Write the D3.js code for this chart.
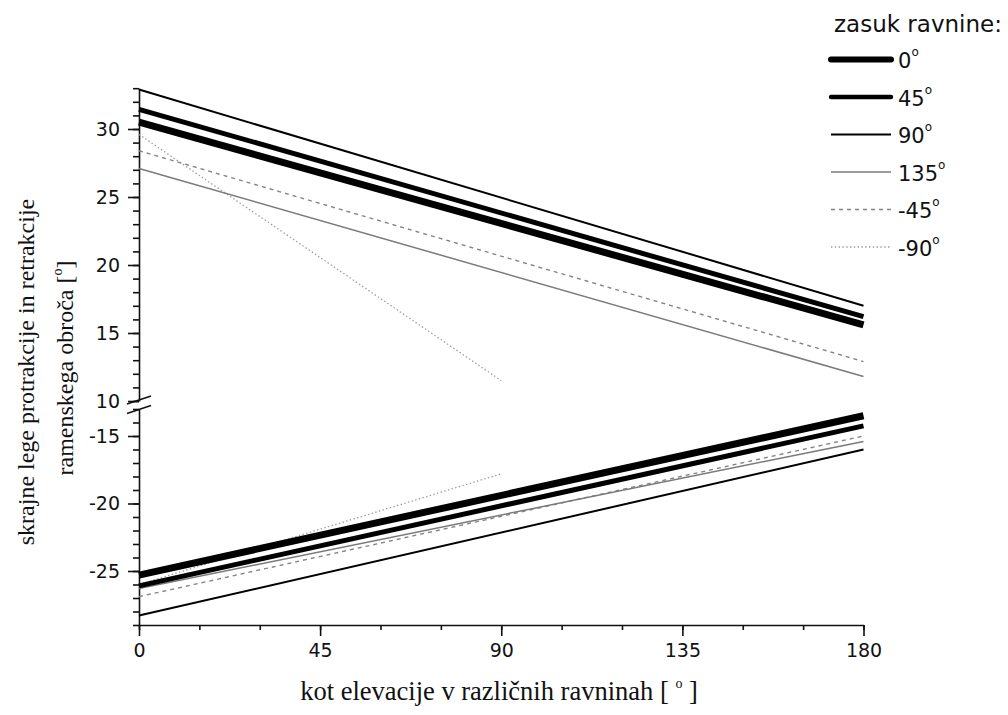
<!DOCTYPE html>
<html>
<head>
<meta charset="utf-8">
<script src="https://cdn.jsdelivr.net/npm/d3@7"></script>
<style>
  body { margin: 0; background: #fff; }
  .tick text { font-family: "DejaVu Sans", sans-serif; font-size: 19px; fill: #111; }
  .axis path, .axis line { stroke: #111; stroke-width: 1.6; }
</style>
</head>
<body>
<svg id="chart" width="1008" height="715"></svg>
<script>
// Rotation of the plane (legend entries) and per-line end values
const planeLabels = ["0", "45", "90", "135", "-45", "-90"];
const elevStart = [0, 0, 0, 0, 0, 0];
const elevEnd = [180, 180, 180, 180, 180, 90];
// protraction limit (upper branch)
const upperStart = [30.5, 31.45, 32.9, 27.1, 28.4, 29.6];
const upperEnd = [15.6, 16.2, 17.0, 11.8, 12.9, 11.5];
// retraction limit (lower branch)
const lowerStart = [-25.3, -26.1, -28.3, -26.3, -26.9, -26.0];
const lowerEnd = [-13.5, -14.25, -16.0, -15.4, -15.0, -17.8];

const xMajorTicks = [0, 45, 90, 135, 180];
const xMinorTicks = d3.range(0, 181, 15);
const yTopMajor = [10, 15, 20, 25, 30];
const yTopMinor = d3.range(10, 34, 1);
const yBotMajor = [-15, -20, -25];
const yBotMinor = d3.range(-29, -12, 1);

const styles = [
  { w: 7.0, lw: 6.0, c: "#000", dash: null, cap: "round" },
  { w: 5.0, lw: 4.4, c: "#000", dash: null, cap: "round" },
  { w: 2.0, lw: 2.0, c: "#000", dash: null, cap: "butt" },
  { w: 1.5, lw: 1.5, c: "#7a7a7a", dash: null, cap: "butt" },
  { w: 1.4, lw: 1.4, c: "#858585", dash: "4,4", cap: "butt" },
  { w: 1.3, lw: 1.3, c: "#9a9a9a", dash: "1.4,2.4", cap: "butt" }
];

const svg = d3.select("#chart");

const x = d3.scaleLinear().domain([0, 180]).range([139, 863.5]);
const yTop = d3.scaleLinear().domain([10, 33]).range([401, 88.2]);
const yBot = d3.scaleLinear().domain([-29, -13]).range([625, 409]);

const fmt = d => String(d);

// y axis, upper segment
const gTopMinor = svg.append("g").attr("class", "axis").attr("transform", `translate(${x(0)},0)`)
  .call(d3.axisLeft(yTop).tickValues(yTopMinor).tickSize(6).tickSizeOuter(0).tickFormat(""));
gTopMinor.select(".domain").remove();
svg.append("g").attr("class", "axis").attr("transform", `translate(${x(0)},0)`)
  .call(d3.axisLeft(yTop).tickValues(yTopMajor).tickSize(11).tickSizeOuter(0).tickPadding(8).tickFormat(fmt));

// y axis, lower segment
const gBotMinor = svg.append("g").attr("class", "axis").attr("transform", `translate(${x(0)},0)`)
  .call(d3.axisLeft(yBot).tickValues(yBotMinor).tickSize(6).tickSizeOuter(0).tickFormat(""));
gBotMinor.select(".domain").remove();
svg.append("g").attr("class", "axis").attr("transform", `translate(${x(0)},0)`)
  .call(d3.axisLeft(yBot).tickValues(yBotMajor).tickSize(11).tickSizeOuter(0).tickPadding(8).tickFormat(fmt));

// axis break marks
const breakMarks = [yTop(10) - 1, yBot(-13) + 0.5];
svg.append("g").selectAll("line").data(breakMarks).join("line")
  .attr("x1", x(0) - 12).attr("x2", x(0) + 12)
  .attr("y1", d => d + 4).attr("y2", d => d - 4)
  .attr("stroke", "#111").attr("stroke-width", 1.6);

// x axis
const gxMinor = svg.append("g").attr("class", "axis").attr("transform", `translate(0,${yBot(-29)})`)
  .call(d3.axisBottom(x).tickValues(xMinorTicks).tickSize(5).tickSizeOuter(0).tickFormat(""));
gxMinor.select(".domain").remove();
svg.append("g").attr("class", "axis").attr("transform", `translate(0,${yBot(-29)})`)
  .call(d3.axisBottom(x).tickValues(xMajorTicks).tickSize(11).tickSizeOuter(0).tickPadding(8).tickFormat(fmt));

// series lines, thinnest first so the heavy lines sit on top
const order = [5, 4, 3, 2, 1, 0];
const lineTop = d3.line().x(d => x(d[0])).y(d => yTop(d[1]));
const lineBot = d3.line().x(d => x(d[0])).y(d => yBot(d[1]));
const plot = svg.append("g");
order.forEach(i => {
  const s = styles[i];
  [[lineTop, [[elevStart[i], upperStart[i]], [elevEnd[i], upperEnd[i]]]],
   [lineBot, [[elevStart[i], lowerStart[i]], [elevEnd[i], lowerEnd[i]]]]].forEach(([gen, pts]) => {
    plot.append("path")
      .attr("d", gen(pts))
      .attr("fill", "none")
      .attr("stroke", s.c)
      .attr("stroke-width", s.w)
      .attr("stroke-dasharray", s.dash)
      .attr("stroke-linecap", "butt");
  });
});

// legend
const legend = svg.append("g").attr("font-family", "'DejaVu Sans', sans-serif").attr("fill", "#111");
legend.append("text").attr("x", 834).attr("y", 32).attr("font-size", 23).text("zasuk ravnine:");
const rowY = i => 59.5 + i * 37.5;
planeLabels.forEach((lab, i) => {
  const s = styles[i];
  legend.append("line")
    .attr("x1", 831).attr("x2", 891)
    .attr("y1", rowY(i)).attr("y2", rowY(i))
    .attr("stroke", s.c).attr("stroke-width", s.lw)
    .attr("stroke-dasharray", s.dash)
    .attr("stroke-linecap", s.cap);
  const t = legend.append("text").attr("x", 898).attr("y", rowY(i) + 8.5).attr("font-size", 21);
  t.append("tspan").text(lab);
  t.append("tspan").attr("font-size", 12).attr("dy", -12).text("o");
});

// axis titles
const xTitle = svg.append("text")
  .attr("x", 499).attr("y", 700)
  .attr("text-anchor", "middle")
  .attr("font-family", "'Liberation Serif', 'Times New Roman', serif")
  .attr("font-size", 26.5).attr("fill", "#111");
xTitle.append("tspan").text("kot elevacije v različnih ravninah [ ");
xTitle.append("tspan").attr("font-size", 14).attr("dy", -12).text("o");
xTitle.append("tspan").attr("dy", 12).text(" ]");

const yTitle1 = svg.append("text")
  .attr("transform", "translate(34,372) rotate(-90)")
  .attr("text-anchor", "middle")
  .attr("font-family", "'Liberation Serif', 'Times New Roman', serif")
  .attr("font-size", 24).attr("fill", "#111")
  .text("skrajne lege protrakcije in retrakcije");

const yTitle2 = svg.append("text")
  .attr("transform", "translate(73,368) rotate(-90)")
  .attr("text-anchor", "middle")
  .attr("font-family", "'Liberation Serif', 'Times New Roman', serif")
  .attr("font-size", 24).attr("fill", "#111");
yTitle2.append("tspan").text("ramenskega obroča [");
yTitle2.append("tspan").attr("font-size", 14).attr("dy", -11).text("o");
yTitle2.append("tspan").attr("dy", 11).text("]");
</script>
</body>
</html>
